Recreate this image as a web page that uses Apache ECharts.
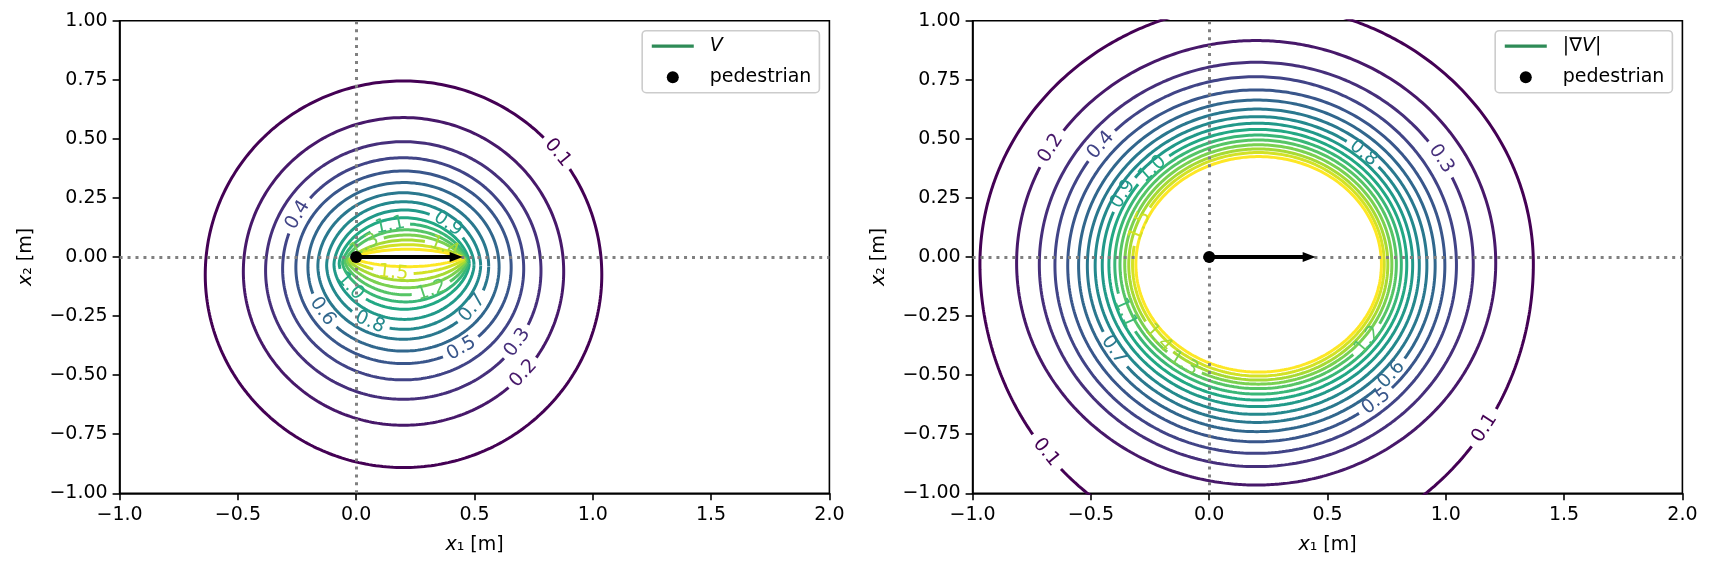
<!DOCTYPE html>
<html>
<head>
<meta charset="utf-8">
<title>V and |grad V| around a pedestrian</title>
<script src="https://cdn.jsdelivr.net/npm/echarts@6/dist/echarts.min.js"></script>
<style>
html, body { margin: 0; padding: 0; background: #fff; }
#chart { width: 1713px; height: 572px; }
</style>
</head>
<body>
<div id="chart"></div>
<script>
const FONT = "'DejaVu Sans', 'Liberation Sans', sans-serif";
const FS = 19;

// contour levels, both panels
const levels = [0.1, 0.2, 0.3, 0.4, 0.5, 0.6, 0.7, 0.8, 0.9, 1.0, 1.1, 1.2, 1.3, 1.4, 1.5, 1.6];

// V : extreme points of every contour (data units)
const vLeft   = [-0.638, -0.477, -0.383, -0.311, -0.255, -0.204, -0.162, -0.125, -0.094, -0.072, -0.058, -0.047, -0.038, -0.031, -0.026, -0.022];
const vRight  = [1.038, 0.877, 0.781, 0.708, 0.655, 0.604, 0.560, 0.526, 0.498, 0.478, 0.472, 0.467, 0.463, 0.460, 0.457, 0.455];
const vTop    = [0.745, 0.590, 0.488, 0.420, 0.364, 0.315, 0.272, 0.234, 0.199, 0.166, 0.140, 0.115, 0.093, 0.072, 0.052, 0.033];
const vBottom = [-0.891, -0.712, -0.602, -0.520, -0.451, -0.398, -0.348, -0.306, -0.264, -0.221, -0.190, -0.160, -0.130, -0.100, -0.070, -0.041];
const vWaist  = [-0.075, -0.062, -0.057, -0.050, -0.044, -0.042, -0.038, -0.036, -0.033, -0.028, -0.025, -0.022, -0.018, -0.014, -0.009, -0.004];
// how pointed the ends are (1 = ellipse, 2 = lens)
const vSharp  = [1, 1, 1, 1, 1, 1, 1.05, 1.1, 1.15, 1.2, 1.3, 1.4, 1.5, 1.6, 1.7, 1.8];
// contour labels: [level, angle along the contour in degrees]
const vLabels = [[0.1, 39], [0.2, -41.5], [0.3, -34], [0.4, 151], [0.5, -57.5], [0.6, 212], [0.7, -36],
                 [0.8, -116], [0.9, 51], [1.0, 214], [1.1, 104], [1.2, -65], [1.3, 135], [1.4, 50], [1.5, -104]];

// |grad V|
const gLeft   = [-0.969, -0.814, -0.718, -0.652, -0.598, -0.552, -0.515, -0.482, -0.452, -0.424, -0.399, -0.377, -0.357, -0.340, -0.324, -0.310];
const gRight  = [1.370, 1.211, 1.116, 1.045, 0.996, 0.955, 0.920, 0.888, 0.860, 0.835, 0.812, 0.791, 0.772, 0.755, 0.740, 0.728];
const gTop    = [1.069, 0.916, 0.824, 0.763, 0.707, 0.664, 0.626, 0.594, 0.566, 0.540, 0.516, 0.495, 0.475, 0.457, 0.442, 0.425];
const gBottom = [-1.256, -0.965, -0.887, -0.831, -0.782, -0.739, -0.700, -0.666, -0.633, -0.605, -0.580, -0.557, -0.538, -0.521, -0.504, -0.487];
const gWaist  = [-0.030, -0.025, -0.032, -0.034, -0.037, -0.037, -0.037, -0.036, -0.034, -0.033, -0.032, -0.031, -0.031, -0.032, -0.031, -0.031];
const gLabels = [[0.1, 220.6], [0.1, -34.3], [0.2, 148.8], [0.3, 31.6], [0.4, 140.4], [0.5, -50.6], [0.6, -40.8],
                 [0.7, 212.6], [0.8, 49], [0.9, 150], [1.0, 135], [1.1, 202], [1.2, -37.5], [1.3, -124], [1.4, -140.5], [1.5, 160]];

const pedestrian = [0, 0];
const velocityTip = [0.45, 0];

const xTicks = [-1, -0.5, 0, 0.5, 1, 1.5, 2];
const yTicks = [-1, -0.75, -0.5, -0.25, 0, 0.25, 0.5, 0.75, 1];

// layout
const GRID_LEFT = [119.6, 972.6];
const GRID_TOP = 20.7, GRID_W = 709.8, GRID_H = 472.6;
const SX = GRID_W / (xTicks[xTicks.length - 1] - xTicks[0]);
const SY = GRID_H / (yTicks[yTicks.length - 1] - yTicks[0]);

const viridisStops = [[68,1,84],[72,36,117],[65,68,135],[53,95,141],[42,120,142],[33,145,140],
                      [34,168,132],[68,191,112],[122,209,81],[189,223,38],[253,231,37]];
function viridis(t) {
    const x = t * 10, i = Math.min(9, Math.floor(x)), f = x - i;
    const a = viridisStops[i], b = viridisStops[i + 1];
    return 'rgb(' + a.map((v, k) => Math.round(v + (b[k] - v) * f)).join(',') + ')';
}

const measureCtx = document.createElement('canvas').getContext('2d');
measureCtx.font = FS + "px 'DejaVu Sans'";

const panels = [
    { name: 'V', left: vLeft, right: vRight, top: vTop, bottom: vBottom, waist: vWaist, sharp: vSharp, labels: vLabels },
    { name: '|∇V|', left: gLeft, right: gRight, top: gTop, bottom: gBottom, waist: gWaist, sharp: null, labels: gLabels }
];

const N = 720;
function contourPoints(p, i) {
    const cx = (p.left[i] + p.right[i]) / 2, rx = (p.right[i] - p.left[i]) / 2;
    const w = p.waist[i], rt = p.top[i] - w, rb = w - p.bottom[i];
    const q = p.sharp ? p.sharp[i] : 1;
    const pts = [];
    for (let k = 0; k < N; k++) {
        const t = 2 * Math.PI * k / N, s = Math.sin(t);
        pts.push([cx + rx * Math.cos(t), w + (s >= 0 ? rt : rb) * Math.sign(s) * Math.pow(Math.abs(s), q)]);
    }
    return pts;
}
function pix(pt) { return [pt[0] * SX, -pt[1] * SY]; }

// build contour lines (broken where a label sits) and label items
panels.forEach(function (p) {
    p.lines = [];
    p.labelItems = [];
    levels.forEach(function (lvl, i) {
        const pts = contourPoints(p, i);
        const cut = new Array(N).fill(false);
        const color = viridis(i / (levels.length - 1));
        p.labels.filter(l => Math.abs(l[0] - lvl) < 1e-9).forEach(function (l) {
            const k0 = ((Math.round(l[1] / 360 * N) % N) + N) % N;
            const c = pix(pts[k0]);
            const a = pix(pts[(k0 - 3 + N) % N]), b = pix(pts[(k0 + 3) % N]);
            let ang = Math.atan2(-(b[1] - a[1]), b[0] - a[0]) * 180 / Math.PI;
            if (ang > 90) ang -= 180;
            if (ang <= -90) ang += 180;
            const text = lvl.toFixed(1);
            const half = measureCtx.measureText(text).width / 2 + 5;
            [1, -1].forEach(function (dir) {
                let j = k0, steps = 0;
                while (steps < N / 2) {
                    const q = pix(pts[j]);
                    if (Math.hypot(q[0] - c[0], q[1] - c[1]) > half) break;
                    cut[j] = true;
                    j = (j + dir + N) % N;
                    steps++;
                }
            });
            p.labelItems.push({ value: pts[k0], text: text, rot: ang, color: color });
        });
        const data = [];
        for (let k = 0; k <= N; k++) data.push(cut[k % N] ? null : pts[k % N]);
        p.lines.push({ data: data, color: color });
    });
});

const chart = echarts.init(document.getElementById('chart'));

const textBase = { color: '#000', fontSize: FS, fontFamily: FONT };
const richItalic = { i: { fontStyle: 'italic', fontSize: FS, fontFamily: FONT, color: '#000' } };
const spine = { color: '#000', width: 1.6 };
const LEGEND_GREEN = '#2e8b57';

const series = [];
panels.forEach(function (p, g) {
    p.lines.forEach(function (ln) {
        series.push({
            type: 'line', xAxisIndex: g, yAxisIndex: g, data: ln.data,
            symbol: 'none', showSymbol: false, silent: true, connectNulls: false,
            lineStyle: { color: ln.color, width: 3 }, z: 2
        });
    });
    // dotted guides through the pedestrian
    series.push({
        type: 'line', xAxisIndex: g, yAxisIndex: g, data: [pedestrian], symbol: 'none', silent: true,
        markLine: {
            silent: true, symbol: ['none', 'none'], label: { show: false }, animation: false,
            lineStyle: { color: '#808080', width: 3, type: [3, 4.95], cap: 'butt' },
            data: [{ xAxis: pedestrian[0] }, { yAxis: pedestrian[1] }]
        }
    });
    // contour labels
    series.push({
        type: 'custom', xAxisIndex: g, yAxisIndex: g, silent: true, z: 6,
        data: p.labelItems.map(l => l.value),
        renderItem: function (params, api) {
            const L = p.labelItems[params.dataIndex];
            const c = api.coord([api.value(0), api.value(1)]);
            return {
                type: 'text', x: c[0], y: c[1], rotation: L.rot * Math.PI / 180,
                style: { text: L.text, fill: L.color, fontSize: FS, fontFamily: FONT, align: 'center', verticalAlign: 'middle' }
            };
        }
    });
    // velocity arrow
    series.push({
        type: 'custom', xAxisIndex: g, yAxisIndex: g, silent: true, z: 7,
        dimensions: ['x0', 'y0', 'x1', 'y1'], encode: { x: [0, 2], y: [1, 3] },
        data: [[pedestrian[0], pedestrian[1], velocityTip[0], velocityTip[1]]],
        renderItem: function (params, api) {
            const p0 = api.coord([api.value(0), api.value(1)]);
            const p1 = api.coord([api.value(2), api.value(3)]);
            const dx = p1[0] - p0[0], dy = p1[1] - p0[1], len = Math.hypot(dx, dy);
            const ux = dx / len, uy = dy / len, nx = -uy, ny = ux;
            const hl = 13, hw = 5, sw = 2.1;
            const bx = p1[0] - ux * hl, by = p1[1] - uy * hl;
            return {
                type: 'polygon',
                shape: { points: [
                    [p0[0] + nx * sw, p0[1] + ny * sw], [bx + nx * sw, by + ny * sw], [bx + nx * hw, by + ny * hw],
                    [p1[0], p1[1]], [bx - nx * hw, by - ny * hw], [bx - nx * sw, by - ny * sw], [p0[0] - nx * sw, p0[1] - ny * sw]
                ] },
                style: { fill: '#000' }
            };
        }
    });
    // legend proxy line
    series.push({
        type: 'line', name: p.name, xAxisIndex: g, yAxisIndex: g, data: [], symbol: 'none',
        lineStyle: { color: LEGEND_GREEN, width: 3 }, itemStyle: { color: LEGEND_GREEN }
    });
    series.push({
        type: 'scatter', name: 'pedestrian', xAxisIndex: g, yAxisIndex: g, data: [pedestrian],
        symbol: 'circle', symbolSize: 12, itemStyle: { color: '#000', opacity: 1 }, silent: true, z: 8
    });
});

const legendBase = {
    orient: 'vertical', top: 30.7, align: 'left', selectedMode: false,
    itemWidth: 42, itemHeight: 12, itemGap: 12,
    padding: [6, 8, 6, 8],
    backgroundColor: 'rgba(255,255,255,0.8)', borderColor: '#cccccc', borderWidth: 1.6, borderRadius: 4,
    textStyle: Object.assign({ padding: [0, 0, 0, 11], rich: richItalic }, textBase),
    formatter: function (name) {
        if (name === 'V') return '{i|V}';
        if (name === '|∇V|') return '|∇{i|V}|';
        return name;
    }
};
function legendItems(lineName) {
    return [
        { name: lineName, itemStyle: { opacity: 0 }, lineStyle: { color: LEGEND_GREEN, width: 3.2, opacity: 1 } },
        { name: 'pedestrian', itemStyle: { color: '#000', opacity: 1 } }
    ];
}

chart.setOption({
    animation: false,
    backgroundColor: '#fff',
    textStyle: { fontFamily: FONT },
    grid: GRID_LEFT.map(l => ({
        left: l, top: GRID_TOP, width: GRID_W, height: GRID_H, containLabel: false, outerBoundsMode: 'none',
        show: true, borderColor: '#000', borderWidth: 1.6, backgroundColor: 'transparent'
    })),
    xAxis: [0, 1].map(g => ({
        type: 'value', gridIndex: g, min: xTicks[0], max: xTicks[xTicks.length - 1], interval: 0.5,
        name: '{i|x}\u2081 [m]', nameLocation: 'middle', nameGap: 42,
        nameTextStyle: Object.assign({ rich: richItalic }, textBase),
        axisLine: { show: true, onZero: false, lineStyle: spine },
        axisTick: { show: true, inside: false, length: 7, lineStyle: spine, customValues: xTicks },
        axisLabel: Object.assign({
            show: true, margin: 12, customValues: xTicks, showMinLabel: true, showMaxLabel: true,
            formatter: v => (v < 0 ? '\u2212' : '') + Math.abs(v).toFixed(1)
        }, textBase),
        splitLine: { show: false }
    })),
    yAxis: [0, 1].map(g => ({
        type: 'value', gridIndex: g, min: yTicks[0], max: yTicks[yTicks.length - 1], interval: 0.25,
        name: '{i|x}\u2082 [m]', nameLocation: 'middle', nameGap: 84, nameRotate: 90,
        nameTextStyle: Object.assign({ rich: richItalic }, textBase),
        axisLine: { show: true, onZero: false, lineStyle: spine },
        axisTick: { show: true, inside: false, length: 7, lineStyle: spine, customValues: yTicks },
        axisLabel: Object.assign({
            show: true, margin: 12, customValues: yTicks, showMinLabel: true, showMaxLabel: true,
            formatter: v => (v < 0 ? '\u2212' : '') + Math.abs(v).toFixed(2)
        }, textBase),
        splitLine: { show: false }
    })),
    legend: [
        Object.assign({ data: legendItems('V'), right: 1713 - 819.4 }, legendBase),
        Object.assign({ data: legendItems('|∇V|'), right: 1713 - 1672.4 }, legendBase)
    ],
    series: series
});
</script>
</body>
</html>
